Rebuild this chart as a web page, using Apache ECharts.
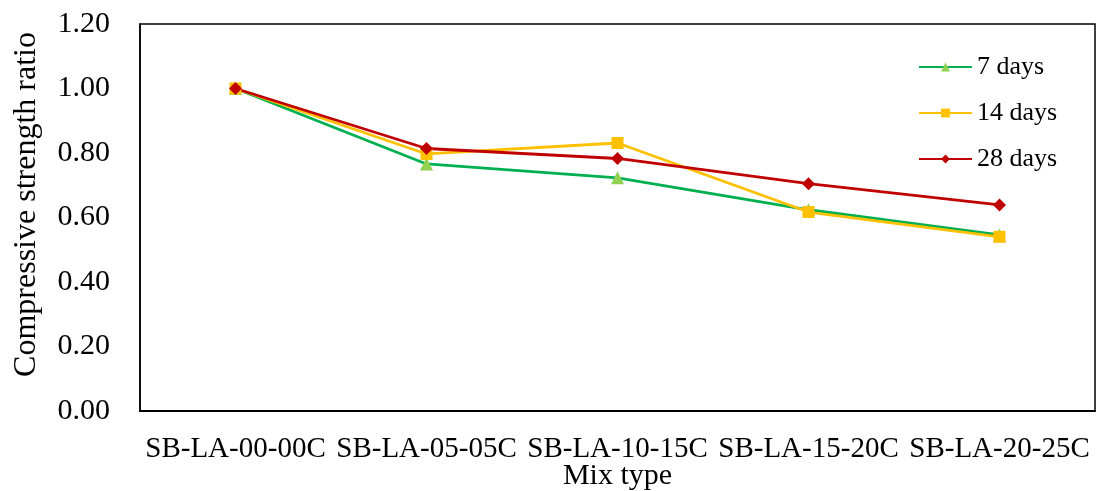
<!DOCTYPE html>
<html>
<head>
<meta charset="utf-8">
<script src="https://cdn.jsdelivr.net/npm/echarts@6/dist/echarts.min.js"></script>
<style>html,body{margin:0;padding:0;background:#fff}#c{width:1096px;height:491px}</style>
</head>
<body>
<div id="c"></div>
<script>
const categories = ['SB-LA-00-00C','SB-LA-05-05C','SB-LA-10-15C','SB-LA-15-20C','SB-LA-20-25C'];
const days7 = [1.00, 0.766, 0.723, 0.624, 0.546];
const days14 = [1.00, 0.797, 0.831, 0.617, 0.540];
const days28 = [1.00, 0.814, 0.783, 0.705, 0.639];
const seriesNames = ['7 days','14 days','28 days'];

const font = '"Liberation Serif", "Times New Roman", serif';
const chart = echarts.init(document.getElementById('c'), null, {renderer:'canvas'});
function mk(name, data, color, mcolor, symbol, size){
  return {name, type:'line', data, symbol, symbolSize:size,
    lineStyle:{color, width:2.8}, itemStyle:{color:mcolor, borderWidth:0},
    emphasis:{disabled:true}};
}
chart.setOption({
  animation:false,
  backgroundColor:'#fff',
  grid:{left:140, right:1, top:24, bottom:80, show:true, borderColor:'#000', borderWidth:1.5,
    containLabel:false, outerBoundsMode:'none'},
  legend:{orient:'vertical', left:913, top:49, itemWidth:53, itemHeight:11, itemGap:20,
    textStyle:{fontFamily:font, fontSize:26, color:'#000'},
    data:seriesNames},
  xAxis:{type:'category', data:categories, boundaryGap:true,
    axisLine:{lineStyle:{color:'#000', width:2}}, axisTick:{show:false},
    axisLabel:{fontFamily:font, fontSize:29, color:'#000', margin:24, interval:0},
    name:'Mix type', nameLocation:'middle', nameGap:50, nameMoveOverlap:false,
    nameTextStyle:{fontFamily:font, fontSize:30, color:'#000'}},
  yAxis:{type:'value', min:0, max:1.2, interval:0.2,
    axisLine:{show:true, lineStyle:{color:'#000', width:1.5}}, axisTick:{show:false}, splitLine:{show:false},
    axisLabel:{fontFamily:font, fontSize:30, color:'#000', margin:30, formatter:v=>v.toFixed(2)},
    name:'Compressive strength ratio', nameLocation:'middle', nameGap:97, nameMoveOverlap:false,
    nameTextStyle:{fontFamily:font, fontSize:32, color:'#000', padding:[0,0,0,26]}},
  series:[
    mk(seriesNames[0], days7, '#00B050', '#92D050', 'triangle', 13),
    mk(seriesNames[1], days14, '#FFC000', '#FFC000', 'rect', 12),
    mk(seriesNames[2], days28, '#C00000', '#C00000', 'diamond', 13)
  ]
});
</script>
</body>
</html>
